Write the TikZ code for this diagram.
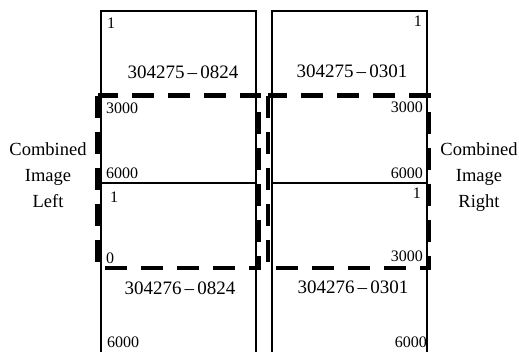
\documentclass[tikz,border=0pt]{standalone}
\usepackage{fontspec}
\setmainfont{Liberation Serif}

\tikzset{
  tile/.style={draw, line width=1.6pt, minimum width=155pt, minimum height=172pt, inner sep=0pt, anchor=north west},
  comb/.style={line width=4.5pt, dash pattern=on 22pt off 14pt},
  num/.style={inner sep=0pt, font=\fontsize{16}{16}\selectfont},
  tag/.style={inner sep=0pt, anchor=base, font=\fontsize{19}{19}\selectfont},
  side/.style={inner sep=0pt, anchor=base, font=\fontsize{18.5}{18.5}\selectfont}
}

\begin{document}
\begin{tikzpicture}[x=1pt,y=-1pt]
  \useasboundingbox (0,0) rectangle (519,351);
  \clip (0,0) rectangle (519,351);

  \node[tile] (ul) at (100,10) {};
  \node[tile] (ll) at (100,182) {};
  \node[tile] (ur) at (271,10) {};
  \node[tile] (lr) at (271,182) {};

  \draw[comb] (97.5,95.5) rectangle (259,268);
  \draw[comb] (268,95.5) rectangle (429,268);

  \node[tag] (ultag) at (183,78) {304275\,--\,0824};
  \node[tag] (urtag) at (352,77) {304275\,--\,0301};
  \node[tag] (lltag) at (180,294) {304276\,--\,0824};
  \node[tag] (lrtag) at (353,293) {304276\,--\,0301};

  \node[num, anchor=base west] (ul1) at (107,28) {1};
  \node[num, anchor=base west] (ul3) at (106,113) {3000};
  \node[num, anchor=base west] (ul6) at (106,178) {6000};
  \node[num, anchor=base west] (ll1) at (110,202) {1};
  \node[num, anchor=base west] (ll0) at (106,263) {0};
  \node[num, anchor=base west] (ll6) at (107,347) {6000};

  \node[num, anchor=base east] (ur1) at (422,26) {1};
  \node[num, anchor=base east] (ur3) at (423,112) {3000};
  \node[num, anchor=base east] (ur6) at (423,178) {6000};
  \node[num, anchor=base east] (lr1) at (421,198) {1};
  \node[num, anchor=base east] (lr3) at (423,261) {3000};
  \node[num, anchor=base east] (lr6) at (427,347) {6000};

  \node[side] (cl1) at (48,155) {Combined};
  \node[side] (cl2) at (48,181) {Image};
  \node[side] (cl3) at (48,207) {Left};
  \node[side] (cr1) at (479,155) {Combined};
  \node[side] (cr2) at (479,181) {Image};
  \node[side] (cr3) at (479,207) {Right};
\end{tikzpicture}
\end{document}
